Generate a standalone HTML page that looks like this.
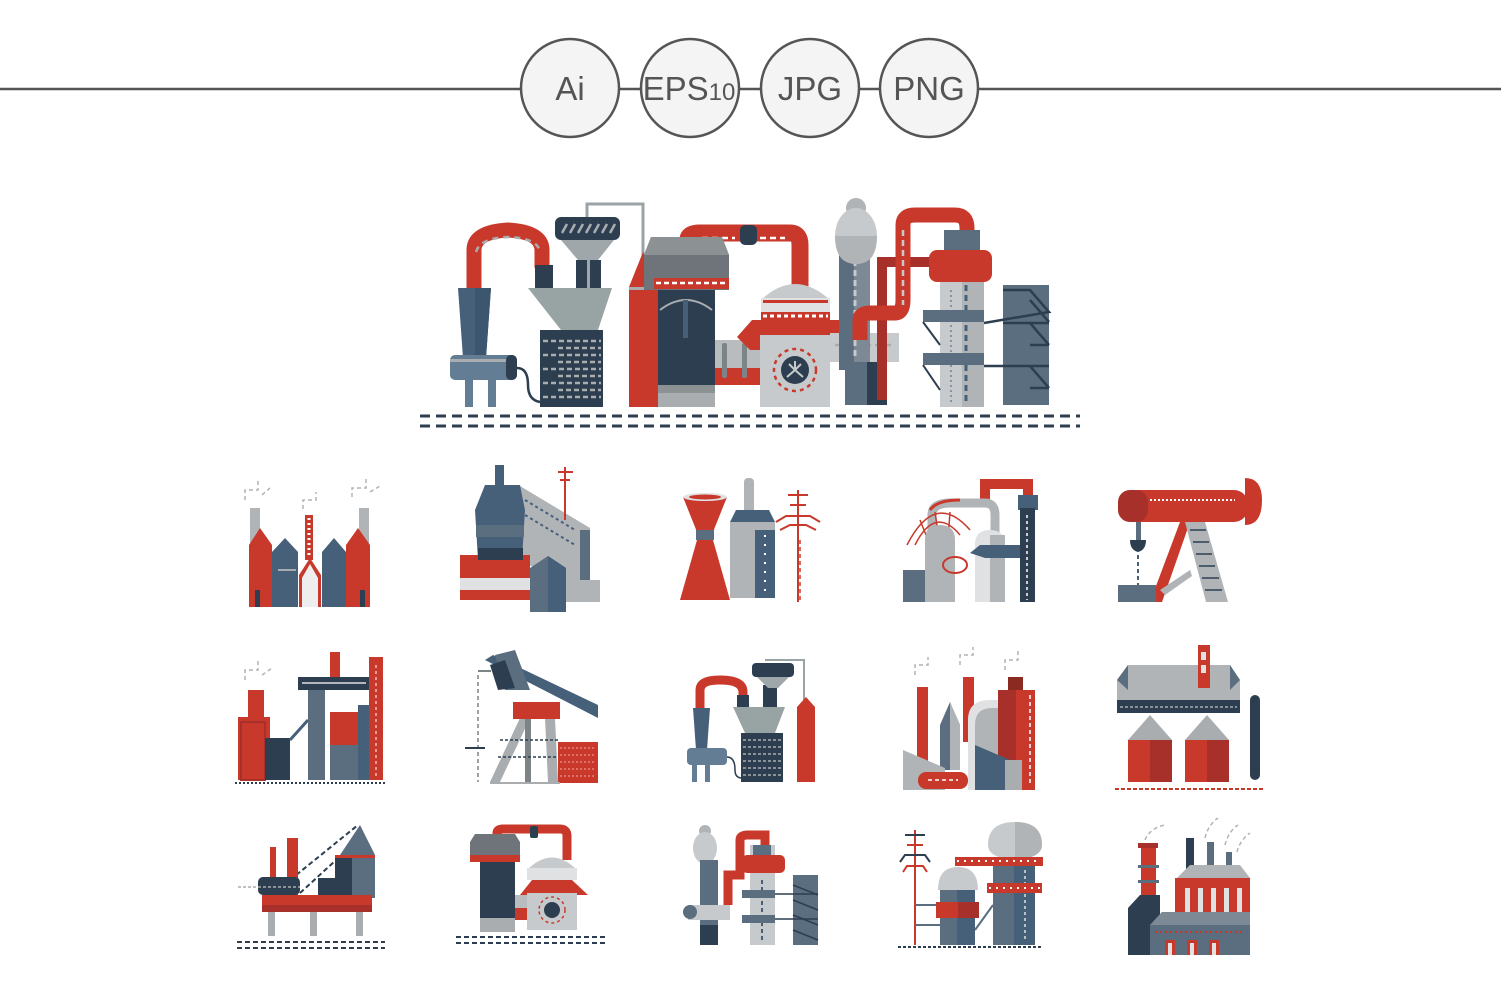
<!DOCTYPE html>
<html><head><meta charset="utf-8"><style>
html,body{margin:0;padding:0;background:#fff;}
svg{display:block;}
text{font-family:"Liberation Sans",sans-serif;}
</style></head><body>
<svg width="1501" height="999" viewBox="0 0 1501 999" xmlns="http://www.w3.org/2000/svg">
<defs></defs>
<!-- header -->
<line x1="0" y1="89" x2="1501" y2="89" stroke="#555" stroke-width="2.5"/>
<g fill="#f4f4f4" stroke="#555" stroke-width="2.5">
<circle cx="570" cy="88" r="49"/><circle cx="690" cy="88" r="49"/><circle cx="810" cy="88" r="49"/><circle cx="929" cy="88" r="49"/>
</g>
<g fill="#555" font-size="33" text-anchor="middle">
<text x="570" y="100">Ai</text>
<text x="689" y="100">EPS<tspan font-size="24">10</tspan></text>
<text x="810" y="100">JPG</text>
<text x="929" y="100">PNG</text>
</g>

<!-- MAIN ILLUSTRATION -->
<g>
<!-- gray line -->
<polyline points="587,217 587,204 643,204 643,272" fill="none" stroke="#9aa3a6" stroke-width="3"/>
<!-- red arch -->
<path d="M474,292 L474,250 Q474,232 508,230 Q542,232 542,250 L542,268" fill="none" stroke="#c9392b" stroke-width="15"/>
<path d="M476,252 Q480,238 508,237 Q538,238 540,252" fill="none" stroke="#a9adb0" stroke-width="2.5" stroke-dasharray="6,5"/>
<!-- cyclone -->
<polygon points="458,288 491,288 486,358 463,358" fill="#46607a"/>
<polygon points="475,288 491,288 486,358 475,358" fill="#3c5670"/>
<rect x="450" y="355" width="67" height="25" rx="5" fill="#637e94"/>
<rect x="450" y="359" width="60" height="3" fill="#a9adb0"/>
<rect x="506" y="355" width="11" height="25" rx="5" fill="#2c3e50"/>
<rect x="465" y="380" width="8" height="27" fill="#637e94"/><rect x="488" y="380" width="8" height="27" fill="#637e94"/>
<path d="M517,368 Q528,368 528,385 Q528,400 540,402" fill="none" stroke="#2c3e50" stroke-width="2.5"/>
<rect x="535" y="265" width="18" height="25" fill="#2c3e50"/>
<!-- hopper -->
<rect x="555" y="217" width="65" height="23" rx="6" fill="#2c3e50"/>
<g stroke="#a9adb0" stroke-width="2.5"><line x1="562" y1="233" x2="567" y2="224"/><line x1="570" y1="233" x2="575" y2="224"/><line x1="578" y1="233" x2="583" y2="224"/><line x1="586" y1="233" x2="591" y2="224"/><line x1="594" y1="233" x2="599" y2="224"/><line x1="602" y1="233" x2="607" y2="224"/><line x1="610" y1="233" x2="615" y2="224"/></g>
<polygon points="561,240 614,240 598,260 578,260" fill="#a0a7aa"/>
<rect x="576" y="260" width="25" height="30" fill="#2c3e50"/><rect x="587" y="260" width="3" height="30" fill="#a0a7aa"/>
<polygon points="528,288 612,288 598,330 561,330" fill="#98a3a3"/>
<rect x="540" y="330" width="63" height="77" fill="#2c3e50"/>
<g stroke="#a9adb0" stroke-width="2.5" stroke-dasharray="5,3">
<line x1="543" y1="341" x2="601" y2="341"/><line x1="558" y1="348" x2="601" y2="348"/><line x1="543" y1="355" x2="601" y2="355"/><line x1="558" y1="362" x2="601" y2="362"/><line x1="543" y1="369" x2="601" y2="369"/><line x1="558" y1="376" x2="601" y2="376"/><line x1="543" y1="383" x2="601" y2="383"/><line x1="558" y1="390" x2="601" y2="390"/><line x1="543" y1="397" x2="601" y2="397"/></g>
<!-- red tower -->
<polygon points="629,287 643,252 658,287" fill="#c9392b"/>
<rect x="629" y="287" width="29" height="120" fill="#c9392b"/>
<rect x="629" y="287" width="29" height="3" fill="#a9adb0"/>
<!-- red pipe 1 -->
<path d="M688,250 L688,240 Q688,233 700,233 L790,233 Q800,233 800,245 L800,290" fill="none" stroke="#c9392b" stroke-width="17"/>
<line x1="702" y1="238" x2="735" y2="238" stroke="#fff" stroke-width="2.5" stroke-dasharray="6,4"/>
<line x1="760" y1="238" x2="785" y2="238" stroke="#fff" stroke-width="2.5" stroke-dasharray="6,4"/>
<rect x="740" y="225" width="17" height="20" rx="5" fill="#2c3e50"/>
<!-- gray hopper -->
<polygon points="651,237 722,237 729,255 729,290 644,290 644,255" fill="#6e7479"/>
<polygon points="651,237 722,237 729,255 644,255" fill="#8c9194"/>
<rect x="654" y="278" width="75" height="11" fill="#c9392b"/>
<line x1="656" y1="283" x2="728" y2="283" stroke="#fff" stroke-width="2.5" stroke-dasharray="5,3"/>
<rect x="658" y="290" width="57" height="110" fill="#2c3e50"/>
<path d="M660,310 Q686,290 712,310" fill="none" stroke="#a9adb0" stroke-width="2"/>
<rect x="683" y="300" width="5" height="38" fill="#46607a"/>
<rect x="658" y="385" width="57" height="22" fill="#a9adb0"/><rect x="658" y="385" width="57" height="8" fill="#8c9194"/>
<!-- gray box w red -->
<rect x="715" y="340" width="45" height="45" fill="#b8bcbf"/>
<rect x="715" y="368" width="45" height="17" fill="#c9392b"/>
<rect x="722" y="343" width="5" height="35" rx="2" fill="#7d8488"/><rect x="742" y="343" width="5" height="35" rx="2" fill="#7d8488"/>
<!-- dome -->
<path d="M761,300 Q795,268 830,300 Z" fill="#c7cacc"/>
<rect x="761" y="298" width="69" height="20" fill="#dfe1e2"/>
<rect x="763" y="300" width="65" height="3" fill="#c9392b"/>
<rect x="761" y="312" width="69" height="8" fill="#c9392b"/>
<line x1="763" y1="316" x2="828" y2="316" stroke="#fff" stroke-width="3" stroke-dasharray="4,3"/>
<polygon points="752,320 840,320 853,337 841,350 750,350 737,337" fill="#c9392b"/>
<rect x="760" y="335" width="70" height="72" fill="#c7cacc"/>
<circle cx="795" cy="370" r="14" fill="#2c3e50"/>
<path d="M795,361 L795,370 L787,377 M795,370 L803,377 M789,364 L795,370 L801,364" stroke="#c7cacc" stroke-width="2" fill="none"/>
<circle cx="795" cy="370" r="21" fill="none" stroke="#c9392b" stroke-width="2.5" stroke-dasharray="4,4"/>
<!-- gray box right -->
<rect x="830" y="333" width="69" height="29" fill="#c7cacc"/>
<line x1="835" y1="345" x2="895" y2="345" stroke="#a9adb0" stroke-width="2.5" stroke-dasharray="6,4"/>
<!-- egg column -->
<rect x="839" y="248" width="31" height="122" fill="#5a6e80"/>
<rect x="854" y="248" width="16" height="122" fill="#7d8a96"/>
<line x1="855" y1="260" x2="855" y2="360" stroke="#c7cacc" stroke-width="3" stroke-dasharray="6,4"/>
<circle cx="856" cy="208" r="10" fill="#b0b4b7"/>
<ellipse cx="856" cy="236" rx="21" ry="28" fill="#c7cacc"/>
<path d="M835,236 L877,236 Q877,264 856,264 Q835,264 835,236Z" fill="#b0b4b7"/>
<rect x="845" y="362" width="42" height="43" fill="#5a6e80"/><rect x="867" y="362" width="20" height="43" fill="#2c3e50"/>
<!-- red pipe 2 -->
<path d="M882,400 L882,262 L935,262" fill="none" stroke="#a8302a" stroke-width="10"/>
<path d="M860,340 L860,320 Q860,313 870,313 L895,313 Q903,313 903,300 L903,225 Q903,215 915,215 L955,215 Q967,215 967,228 L967,245" fill="none" stroke="#c9392b" stroke-width="15"/>
<line x1="903" y1="230" x2="903" y2="305" stroke="#c7cacc" stroke-width="2.5" stroke-dasharray="6,4"/>
<!-- tower -->
<rect x="940" y="250" width="44" height="157" fill="#c7cacc"/>
<rect x="962" y="250" width="22" height="157" fill="#b0b4b7"/>
<rect x="944" y="230" width="36" height="25" fill="#5a6e80"/>
<line x1="966" y1="285" x2="966" y2="405" stroke="#46607a" stroke-width="3" stroke-dasharray="6,4"/>
<line x1="951" y1="290" x2="951" y2="405" stroke="#46607a" stroke-width="1" stroke-dasharray="2,3"/>
<rect x="929" y="250" width="63" height="32" rx="8" fill="#c9392b"/>
<rect x="923" y="310" width="61" height="12" fill="#5a6e80"/>
<rect x="923" y="353" width="61" height="12" fill="#5a6e80"/>
<line x1="923" y1="322" x2="940" y2="345" stroke="#2c3e50" stroke-width="2"/>
<line x1="923" y1="365" x2="940" y2="390" stroke="#2c3e50" stroke-width="2"/>
<!-- lattice -->
<rect x="1003" y="285" width="46" height="120" fill="#5a6e80"/>
<g stroke="#2c3e50" stroke-width="2.5" fill="none">
<polyline points="1003,290 1030,290 1049,312 984,323"/>
<line x1="1003" y1="323" x2="1049" y2="323"/>
<polyline points="1030,323 1049,345"/>
<line x1="984" y1="366" x2="1049" y2="366"/>
<polyline points="1030,345 1049,345"/>
<polyline points="1030,366 1049,388"/><polyline points="1030,388 1049,388"/>
<polyline points="1030,300 1049,322"/>
</g>
<!-- ground -->
<line x1="420" y1="416" x2="1080" y2="416" stroke="#2c3e50" stroke-width="3" stroke-dasharray="10,6"/>
<line x1="420" y1="426" x2="1080" y2="426" stroke="#2c3e50" stroke-width="3" stroke-dasharray="10,6"/>
</g>

<!-- ROW 1 -->
<!-- icon1 -->
<g>
<g fill="none" stroke="#b0b4b7" stroke-width="1.5" stroke-dasharray="4,3">
<path d="M245,500 L245,490 L258,490 L258,480 M262,495 L270,488"/><path d="M352,497 L352,488 L366,488 L366,478 M370,492 L380,486"/><path d="M303,509 L303,500 L316,500 L316,492"/></g>
<rect x="250" y="508" width="10" height="38" fill="#b0b4b7"/><rect x="359" y="508" width="10" height="38" fill="#b0b4b7"/>
<rect x="305" y="515" width="8" height="45" fill="#c9392b"/>
<line x1="309" y1="518" x2="309" y2="555" stroke="#fff" stroke-width="3" stroke-dasharray="2,3"/>
<polygon points="272,552 285,538 298,552 298,607 272,607" fill="#46607a"/>
<polygon points="322,552 334,538 346,552 346,607 322,607" fill="#46607a"/>
<g stroke="#a9adb0" stroke-width="2"><line x1="278" y1="570" x2="296" y2="570" stroke-dasharray="18,0"/></g>
<polygon points="249,545 260,528 272,545 272,607 249,607" fill="#c9392b"/>
<polygon points="346,545 358,528 370,545 370,607 346,607" fill="#c9392b"/>
<polygon points="299,575 310,558 321,575 321,607 299,607" fill="#c9392b"/>
<polygon points="302,578 310,564 318,578 318,607 302,607" fill="#eee"/>
<rect x="255" y="590" width="5" height="17" fill="#2c3e50"/><rect x="360" y="590" width="5" height="17" fill="#2c3e50"/>
</g>
<!-- icon2 -->
<g>
<polygon points="520,486 590,528 590,598 520,560" fill="#b0b4b7"/>
<line x1="525" y1="500" x2="575" y2="530" stroke="#46607a" stroke-width="2" stroke-dasharray="3,3"/>
<line x1="525" y1="515" x2="575" y2="545" stroke="#46607a" stroke-width="2" stroke-dasharray="3,3"/>
<rect x="580" y="530" width="10" height="68" fill="#5a6e80"/>
<line x1="565" y1="467" x2="565" y2="520" stroke="#c9392b" stroke-width="2"/>
<line x1="558" y1="472" x2="573" y2="472" stroke="#c9392b" stroke-width="2"/><line x1="560" y1="480" x2="570" y2="480" stroke="#c9392b" stroke-width="2"/>
<rect x="460" y="555" width="70" height="45" fill="#c9392b"/>
<rect x="460" y="578" width="70" height="12" fill="#dfe1e2"/>
<rect x="495" y="465" width="9" height="22" fill="#46607a"/>
<polygon points="485,485 520,485 525,510 522,560 478,560 475,510" fill="#46607a"/>
<rect x="476" y="525" width="48" height="12" fill="#5a6e80"/>
<rect x="478" y="548" width="45" height="12" fill="#2c3e50"/>
<polygon points="530,568 548,556 566,568 566,612 530,612" fill="#5a6e80"/>
<polygon points="548,556 566,568 566,612 548,612" fill="#46607a"/>
<rect x="566" y="580" width="34" height="22" fill="#b0b4b7"/>
</g>
<!-- icon3 -->
<g>
<polygon points="683,497 727,497 713,532 713,540 730,600 680,600 697,540 697,532" fill="#c9392b"/>
<ellipse cx="705" cy="497" rx="22" ry="4" fill="#dfe1e2"/><ellipse cx="705" cy="497" rx="16" ry="2.5" fill="#c9392b"/>
<rect x="696" y="530" width="18" height="10" fill="#5a6e80"/>
<rect x="744" y="478" width="10" height="48" rx="4" fill="#b0b4b7"/>
<rect x="730" y="522" width="45" height="76" fill="#b0b4b7"/>
<rect x="755" y="530" width="20" height="68" fill="#46607a"/>
<polygon points="730,522 736,510 769,510 775,522" fill="#46607a"/>
<line x1="765" y1="535" x2="765" y2="595" stroke="#fff" stroke-width="2" stroke-dasharray="2,7"/>
<line x1="798" y1="490" x2="798" y2="602" stroke="#c9392b" stroke-width="2"/>
<line x1="800" y1="540" x2="800" y2="602" stroke="#c9392b" stroke-width="1.5" stroke-dasharray="4,3"/>
<g stroke="#c9392b" stroke-width="2" fill="none"><line x1="788" y1="495" x2="808" y2="495"/><line x1="790" y1="505" x2="806" y2="505"/><path d="M776,522 L786,516 L810,516 L820,522"/><path d="M780,530 L790,525 L806,525 L816,530"/></g>
</g>
<!-- icon4 -->
<g>
<path d="M985,500 L985,484 L1028,484 L1028,500" fill="none" stroke="#c9392b" stroke-width="10"/>
<path d="M932,530 L932,515 Q932,503 950,503 L985,503 Q995,503 995,515 L995,540" fill="none" stroke="#b0b4b7" stroke-width="9"/>
<path d="M930,510 Q937,500 960,500" fill="none" stroke="#c9392b" stroke-width="3"/>
<g stroke="#c9392b" stroke-width="1.5" fill="none"><path d="M907,545 Q935,490 970,530"/><path d="M915,545 Q935,505 960,535"/><line x1="920" y1="520" x2="930" y2="545"/><line x1="935" y1="512" x2="940" y2="545"/><line x1="950" y1="512" x2="948" y2="540"/></g>
<rect x="1018" y="495" width="20" height="15" fill="#46607a"/>
<rect x="1020" y="508" width="15" height="94" fill="#2c3e50"/>
<line x1="1027" y1="515" x2="1027" y2="600" stroke="#fff" stroke-width="1.5" stroke-dasharray="3,3"/>
<path d="M925,602 L925,540 Q925,525 940,525 Q955,525 955,540 L955,602Z" fill="#b0b4b7"/>
<path d="M975,602 L975,545 Q975,530 990,530 Q1005,530 1005,545 L1005,602Z" fill="#dfe1e2"/>
<rect x="990" y="535" width="15" height="67" fill="#b0b4b7"/>
<rect x="903" y="570" width="22" height="32" fill="#5a6e80"/>
<polygon points="970,553 980,545 1020,545 1020,558 985,558" fill="#46607a"/>
<ellipse cx="955" cy="565" rx="12" ry="8" fill="none" stroke="#c9392b" stroke-width="2"/>
</g>
<!-- icon5 -->
<g>
<rect x="1118" y="490" width="130" height="32" rx="14" fill="#c9392b"/>
<rect x="1118" y="490" width="30" height="32" rx="12" fill="#a8302a"/>
<path d="M1245,478 Q1262,478 1262,500 Q1262,525 1245,525Z" fill="#c9392b"/>
<line x1="1150" y1="500" x2="1235" y2="500" stroke="#fff" stroke-width="2" stroke-dasharray="2,2"/>
<rect x="1136" y="522" width="5" height="18" fill="#5a6e80"/>
<path d="M1130,540 L1146,540 Q1146,550 1138,552 Q1130,550 1130,540Z" fill="#2c3e50"/>
<line x1="1138" y1="555" x2="1138" y2="585" stroke="#46607a" stroke-width="2" stroke-dasharray="4,3"/>
<polygon points="1180,522 1190,522 1162,602 1150,602" fill="#c9392b"/>
<polygon points="1185,522 1205,522 1228,602 1206,602" fill="#b0b4b7"/>
<g stroke="#2c3e50" stroke-width="1.5"><line x1="1190" y1="530" x2="1206" y2="530"/><line x1="1193" y1="542" x2="1209" y2="542"/><line x1="1196" y1="554" x2="1212" y2="554"/><line x1="1199" y1="566" x2="1215" y2="566"/><line x1="1202" y1="578" x2="1219" y2="578"/><line x1="1205" y1="590" x2="1222" y2="590"/></g>
<polygon points="1160,590 1190,570 1192,576 1165,595" fill="#b0b4b7"/>
<rect x="1118" y="585" width="38" height="17" fill="#5a6e80"/>
</g>

<!-- ROW 2 -->
<!-- icon6 -->
<g>
<g fill="none" stroke="#b0b4b7" stroke-width="1.5" stroke-dasharray="4,3"><path d="M245,680 L245,670 L258,670 L258,660 M262,675 L272,668"/></g>
<rect x="248" y="690" width="16" height="27" fill="#c9392b"/>
<rect x="238" y="717" width="32" height="63" fill="#c9392b"/>
<rect x="241" y="722" width="24" height="58" fill="none" stroke="#a8302a" stroke-width="2"/>
<rect x="265" y="738" width="25" height="42" fill="#2c3e50"/>
<line x1="290" y1="740" x2="308" y2="720" stroke="#46607a" stroke-width="3"/>
<rect x="330" y="652" width="10" height="30" fill="#c9392b"/>
<rect x="298" y="677" width="72" height="13" fill="#2c3e50"/>
<line x1="302" y1="683" x2="366" y2="683" stroke="#dfe1e2" stroke-width="1.5"/>
<rect x="308" y="690" width="17" height="90" fill="#5a6e80"/>
<rect x="330" y="712" width="32" height="40" fill="#c9392b"/>
<rect x="330" y="745" width="32" height="35" fill="#5a6e80"/>
<rect x="358" y="705" width="12" height="75" fill="#46607a"/>
<rect x="369" y="657" width="14" height="123" fill="#c9392b"/>
<line x1="376" y1="665" x2="376" y2="778" stroke="#fff" stroke-width="1" stroke-dasharray="3,3"/>
<line x1="235" y1="783" x2="387" y2="783" stroke="#2c3e50" stroke-width="2" stroke-dasharray="2,2"/>
</g>
<!-- icon7 -->
<g>
<polyline points="478,675 478,782" fill="none" stroke="#7d8488" stroke-width="1.5" stroke-dasharray="4,3"/>
<line x1="478" y1="671" x2="491" y2="671" stroke="#7d8488" stroke-width="2"/>
<line x1="465" y1="748" x2="485" y2="748" stroke="#2c3e50" stroke-width="2"/>
<polygon points="485,660 493,655 598,705 598,718" fill="#46607a"/>
<polygon points="495,655 515,650 530,690 505,690" fill="#5a6e80"/>
<polygon points="490,665 505,660 515,688 498,690" fill="#2c3e50"/>
<polygon points="520,718 530,718 500,782 490,782" fill="#a9adb0"/>
<polygon points="545,718 555,718 558,782 548,782" fill="#a9adb0"/>
<rect x="525" y="718" width="6" height="64" fill="#7d8488"/>
<g stroke="#2c3e50" stroke-width="1.5" stroke-dasharray="3,2"><line x1="500" y1="740" x2="560" y2="740"/><line x1="498" y1="757" x2="560" y2="757"/></g>
<rect x="513" y="702" width="47" height="17" fill="#c9392b"/>
<rect x="558" y="742" width="40" height="41" fill="#c9392b"/>
<g stroke="#f2a79c" stroke-width="1" stroke-dasharray="2,2"><line x1="560" y1="748" x2="596" y2="748"/><line x1="560" y1="755" x2="596" y2="755"/><line x1="560" y1="762" x2="596" y2="762"/><line x1="560" y1="769" x2="596" y2="769"/><line x1="560" y1="776" x2="596" y2="776"/></g>
<line x1="490" y1="783" x2="560" y2="783" stroke="#a9adb0" stroke-width="2"/>
</g>
<!-- icon8 -->
<g>
<polyline points="765,660 804,660 804,700" fill="none" stroke="#9aa3a6" stroke-width="2"/>
<path d="M700,712 L700,690 Q700,680 720,680 Q743,680 743,692 L743,700" fill="none" stroke="#c9392b" stroke-width="9"/>
<rect x="737" y="695" width="12" height="20" fill="#2c3e50"/>
<polygon points="693,708 710,708 707,750 696,750" fill="#46607a"/>
<rect x="687" y="748" width="40" height="17" rx="4" fill="#637e94"/>
<rect x="692" y="765" width="5" height="17" fill="#637e94"/><rect x="705" y="765" width="5" height="17" fill="#637e94"/>
<path d="M727,757 Q735,757 735,770 Q735,778 742,778" fill="none" stroke="#2c3e50" stroke-width="1.5"/>
<rect x="752" y="663" width="42" height="14" rx="4" fill="#2c3e50"/>
<rect x="763" y="685" width="14" height="22" fill="#2c3e50"/>
<polygon points="757,677 789,677 778,688 768,688" fill="#a0a7aa"/>
<polygon points="733,707 785,707 775,733 745,733" fill="#98a3a3"/>
<rect x="741" y="733" width="42" height="49" fill="#2c3e50"/>
<g stroke="#a9adb0" stroke-width="1.5" stroke-dasharray="3,2"><line x1="743" y1="740" x2="781" y2="740"/><line x1="743" y1="747" x2="781" y2="747"/><line x1="743" y1="754" x2="781" y2="754"/><line x1="743" y1="761" x2="781" y2="761"/><line x1="743" y1="768" x2="781" y2="768"/><line x1="743" y1="775" x2="781" y2="775"/></g>
<polygon points="797,707 806,697 815,707" fill="#c9392b"/>
<rect x="797" y="707" width="18" height="75" fill="#c9392b"/>
</g>
<!-- icon9 -->
<g>
<g fill="none" stroke="#b0b4b7" stroke-width="1.5" stroke-dasharray="4,3"><path d="M915,675 L915,665 L928,665 L928,657"/><path d="M960,665 L960,655 L973,655 L973,647"/><path d="M1005,670 L1005,660 L1018,660 L1018,650"/></g>
<rect x="917" y="687" width="11" height="75" fill="#c9392b"/>
<rect x="963" y="677" width="11" height="65" fill="#c9392b"/>
<polygon points="940,725 950,702 960,725 960,770 940,770" fill="#5a6e80"/>
<polygon points="950,702 960,725 960,770 950,770" fill="#b0b4b7"/>
<path d="M968,790 L968,720 Q968,700 990,700 L1000,700 L1000,790Z" fill="#dfe1e2"/>
<path d="M975,790 L975,725 Q975,708 992,708 L1000,708 L1000,790Z" fill="#b0b4b7"/>
<rect x="1008" y="677" width="15" height="13" fill="#8a2a20"/>
<rect x="998" y="690" width="37" height="100" fill="#c9392b"/>
<rect x="998" y="690" width="18" height="100" fill="#a8302a"/>
<line x1="1030" y1="695" x2="1030" y2="785" stroke="#fff" stroke-width="1.5" stroke-dasharray="4,3"/>
<polygon points="903,750 945,768 945,790 903,790" fill="#b0b4b7"/>
<polygon points="975,745 1010,760 1010,790 975,790" fill="#46607a"/>
<polygon points="1005,760 1022,760 1022,790 1005,790" fill="#a9adb0"/>
<rect x="918" y="772" width="50" height="17" rx="8" fill="#c9392b"/>
<line x1="928" y1="780" x2="958" y2="780" stroke="#fff" stroke-width="1.5" stroke-dasharray="4,3"/>
</g>
<!-- icon10 -->
<g>
<polygon points="1128,665 1230,665 1240,680 1240,700 1117,700 1117,680" fill="#b0b4b7"/>
<polygon points="1117,680 1128,665 1128,690" fill="#5a6e80"/>
<polygon points="1240,680 1230,665 1230,690" fill="#5a6e80"/>
<rect x="1117" y="700" width="123" height="13" fill="#2c3e50"/>
<line x1="1120" y1="707" x2="1237" y2="707" stroke="#a9adb0" stroke-width="1.5" stroke-dasharray="3,2"/>
<rect x="1198" y="645" width="12" height="43" fill="#c9392b"/>
<rect x="1201" y="652" width="5" height="8" fill="#dfe1e2"/><rect x="1201" y="665" width="5" height="8" fill="#dfe1e2"/>
<polygon points="1128,740 1150,715 1172,740" fill="#a9adb0"/>
<polygon points="1185,740 1207,715 1229,740" fill="#a9adb0"/>
<rect x="1128" y="740" width="44" height="42" fill="#c9392b"/><rect x="1150" y="740" width="22" height="42" fill="#a8302a"/>
<rect x="1185" y="740" width="44" height="42" fill="#c9392b"/><rect x="1207" y="740" width="22" height="42" fill="#a8302a"/>
<rect x="1250" y="695" width="10" height="85" rx="5" fill="#2c3e50"/>
<line x1="1115" y1="789" x2="1265" y2="789" stroke="#c9392b" stroke-width="2" stroke-dasharray="4,2"/>
</g>

<!-- ROW 3 -->
<!-- icon11 -->
<g>
<line x1="290" y1="880" x2="358" y2="825" stroke="#2c3e50" stroke-width="2" stroke-dasharray="5,3"/>
<line x1="300" y1="893" x2="358" y2="840" stroke="#2c3e50" stroke-width="2" stroke-dasharray="5,3"/>
<rect x="270" y="847" width="6" height="50" fill="#c9392b"/>
<rect x="287" y="838" width="11" height="59" fill="#c9392b"/>
<polygon points="340,855 360,825 375,855" fill="#5a6e80"/>
<rect x="318" y="878" width="18" height="20" fill="#2c3e50"/>
<rect x="335" y="855" width="40" height="43" fill="#2c3e50"/><rect x="352" y="855" width="23" height="43" fill="#5a6e80"/>
<rect x="335" y="855" width="40" height="3" fill="#c9392b"/>
<rect x="258" y="877" width="42" height="18" rx="5" fill="#2c3e50"/>
<line x1="238" y1="887" x2="300" y2="887" stroke="#a9adb0" stroke-width="1.5" stroke-dasharray="3,2"/>
<rect x="262" y="895" width="110" height="17" fill="#c9392b"/><rect x="262" y="905" width="110" height="7" fill="#a8302a"/>
<rect x="268" y="912" width="7" height="24" fill="#a9adb0"/><rect x="310" y="912" width="7" height="24" fill="#a9adb0"/><rect x="356" y="912" width="7" height="24" fill="#a9adb0"/>
<line x1="237" y1="942" x2="385" y2="942" stroke="#2c3e50" stroke-width="2" stroke-dasharray="5,3"/>
<line x1="237" y1="948" x2="385" y2="948" stroke="#2c3e50" stroke-width="2" stroke-dasharray="5,3"/>
</g>
<!-- icon12 -->
<g>
<path d="M497,842 L497,833 Q497,829 503,829 L560,829 Q567,829 567,836 L567,860" fill="none" stroke="#c9392b" stroke-width="9"/>
<rect x="530" y="826" width="8" height="12" rx="2" fill="#2c3e50"/>
<polygon points="475,834 515,834 520,842 520,860 470,860 470,842" fill="#6e7479"/>
<rect x="470" y="855" width="50" height="7" fill="#c9392b"/>
<rect x="480" y="862" width="35" height="56" fill="#2c3e50"/>
<rect x="480" y="918" width="35" height="14" fill="#a9adb0"/>
<rect x="515" y="895" width="14" height="25" fill="#b8bcbf"/><rect x="515" y="908" width="14" height="12" fill="#c9392b"/>
<path d="M527,870 Q552,845 577,870Z" fill="#c7cacc"/>
<rect x="527" y="868" width="50" height="12" fill="#dfe1e2"/>
<polygon points="532,880 572,880 588,895 520,895" fill="#c9392b"/>
<rect x="527" y="893" width="50" height="37" fill="#c7cacc"/>
<circle cx="552" cy="910" r="8" fill="#2c3e50"/>
<circle cx="552" cy="910" r="13" fill="none" stroke="#c9392b" stroke-width="1.5" stroke-dasharray="3,3"/>
<line x1="456" y1="937" x2="605" y2="937" stroke="#2c3e50" stroke-width="2" stroke-dasharray="5,3"/>
<line x1="456" y1="943" x2="605" y2="943" stroke="#2c3e50" stroke-width="2" stroke-dasharray="5,3"/>
</g>
<!-- icon13 -->
<g>
<circle cx="705" cy="831" r="6" fill="#b0b4b7"/>
<ellipse cx="705" cy="848" rx="12" ry="16" fill="#c7cacc"/>
<rect x="700" y="860" width="18" height="85" fill="#5a6e80"/><rect x="700" y="925" width="18" height="20" fill="#2c3e50"/>
<path d="M728,905 L728,875 L740,875 L740,840 Q740,835 748,835 L765,835 L765,860" fill="none" stroke="#c9392b" stroke-width="9"/>
<rect x="750" y="845" width="25" height="100" fill="#c7cacc"/>
<rect x="753" y="845" width="18" height="15" fill="#5a6e80"/>
<rect x="742" y="855" width="43" height="18" rx="5" fill="#c9392b"/>
<line x1="762" y1="880" x2="762" y2="942" stroke="#46607a" stroke-width="2" stroke-dasharray="4,3"/>
<rect x="742" y="890" width="33" height="8" fill="#5a6e80"/><rect x="742" y="915" width="33" height="8" fill="#5a6e80"/>
<rect x="793" y="875" width="25" height="70" fill="#5a6e80"/>
<g stroke="#2c3e50" stroke-width="1.5"><line x1="793" y1="885" x2="818" y2="895"/><line x1="793" y1="900" x2="818" y2="910"/><line x1="793" y1="915" x2="818" y2="925"/><line x1="793" y1="930" x2="818" y2="940"/><line x1="775" y1="894" x2="818" y2="894"/><line x1="775" y1="919" x2="818" y2="919"/></g>
<rect x="688" y="905" width="42" height="15" fill="#c7cacc"/>
<circle cx="690" cy="912" r="7" fill="#5a6e80"/>
</g>
<!-- icon14 -->
<g>
<line x1="915" y1="830" x2="915" y2="945" stroke="#c9392b" stroke-width="2"/>
<g stroke="#2c3e50" stroke-width="2" fill="none"><line x1="905" y1="835" x2="925" y2="835"/><path d="M900,862 L905,855 L925,855 L930,862"/></g>
<g stroke="#c9392b" stroke-width="2" fill="none"><line x1="907" y1="845" x2="923" y2="845"/><path d="M903,872 L907,866 L923,866 L927,872"/></g>
<line x1="915" y1="905" x2="940" y2="905" stroke="#5a6e80" stroke-width="2"/><line x1="915" y1="925" x2="940" y2="925" stroke="#5a6e80" stroke-width="2"/>
<path d="M988,845 Q988,822 1015,822 Q1042,822 1042,845 Q1042,858 1015,860 Q988,858 988,845Z" fill="#c7cacc"/>
<path d="M1015,822 Q1042,822 1042,845 Q1042,858 1015,860Z" fill="#b0b4b7"/>
<rect x="993" y="860" width="42" height="85" fill="#5a6e80"/><rect x="1014" y="860" width="21" height="85" fill="#46607a"/>
<line x1="1025" y1="870" x2="1025" y2="942" stroke="#dfe1e2" stroke-width="1.5" stroke-dasharray="3,3"/>
<rect x="955" y="857" width="88" height="9" fill="#c9392b"/>
<line x1="957" y1="861" x2="1041" y2="861" stroke="#fff" stroke-width="2" stroke-dasharray="2,5"/>
<rect x="987" y="883" width="55" height="10" fill="#c9392b"/>
<line x1="989" y1="888" x2="1040" y2="888" stroke="#fff" stroke-width="2" stroke-dasharray="2,5"/>
<line x1="975" y1="930" x2="993" y2="905" stroke="#5a6e80" stroke-width="2"/>
<path d="M938,890 Q938,867 958,867 Q978,867 978,890Z" fill="#c7cacc"/>
<rect x="940" y="890" width="35" height="55" fill="#5a6e80"/><rect x="957" y="890" width="18" height="55" fill="#46607a"/>
<rect x="936" y="902" width="43" height="16" fill="#c9392b"/><rect x="958" y="902" width="21" height="16" fill="#a8302a"/>
<line x1="898" y1="947" x2="1043" y2="947" stroke="#2c3e50" stroke-width="2" stroke-dasharray="3,2"/>
</g>
<!-- icon15 -->
<g>
<g fill="none" stroke="#b0b4b7" stroke-width="1.5" stroke-dasharray="4,3"><path d="M1145,840 Q1150,828 1165,825"/><path d="M1205,838 Q1208,825 1218,818"/><path d="M1225,845 Q1228,832 1238,825"/><path d="M1237,852 Q1240,840 1250,833"/></g>
<rect x="1186" y="838" width="8" height="32" fill="#2c3e50"/><rect x="1207" y="842" width="7" height="28" fill="#5a6e80"/><rect x="1226" y="852" width="6" height="20" fill="#5a6e80"/>
<rect x="1138" y="843" width="20" height="5" fill="#a8302a"/>
<rect x="1141" y="848" width="15" height="62" fill="#c9392b"/>
<rect x="1138" y="865" width="21" height="3" fill="#5a6e80"/><rect x="1138" y="880" width="21" height="3" fill="#5a6e80"/>
<polygon points="1175,880 1190,865 1240,865 1250,878" fill="#b0b4b7"/>
<rect x="1175" y="878" width="75" height="40" fill="#c9392b"/>
<g fill="#dfe1e2"><rect x="1185" y="888" width="5" height="25"/><rect x="1198" y="888" width="5" height="25"/><rect x="1211" y="888" width="5" height="25"/><rect x="1224" y="888" width="5" height="25"/><rect x="1237" y="888" width="5" height="25"/></g>
<polygon points="1128,908 1140,895 1160,895 1160,955 1128,955" fill="#2c3e50"/>
<polygon points="1150,925 1162,912 1250,912 1250,955 1150,955" fill="#5a6e80"/>
<polygon points="1150,925 1162,912 1250,912 1250,925" fill="#7d8a96"/>
<line x1="1155" y1="932" x2="1245" y2="932" stroke="#c9392b" stroke-width="2" stroke-dasharray="2,3"/>
<rect x="1165" y="940" width="10" height="15" fill="#c9392b"/><rect x="1187" y="940" width="10" height="15" fill="#c9392b"/><rect x="1209" y="940" width="10" height="15" fill="#c9392b"/>
<rect x="1168" y="943" width="4" height="12" fill="#dfe1e2"/><rect x="1190" y="943" width="4" height="12" fill="#dfe1e2"/><rect x="1212" y="943" width="4" height="12" fill="#dfe1e2"/>
</g>
</svg>
</body></html>
